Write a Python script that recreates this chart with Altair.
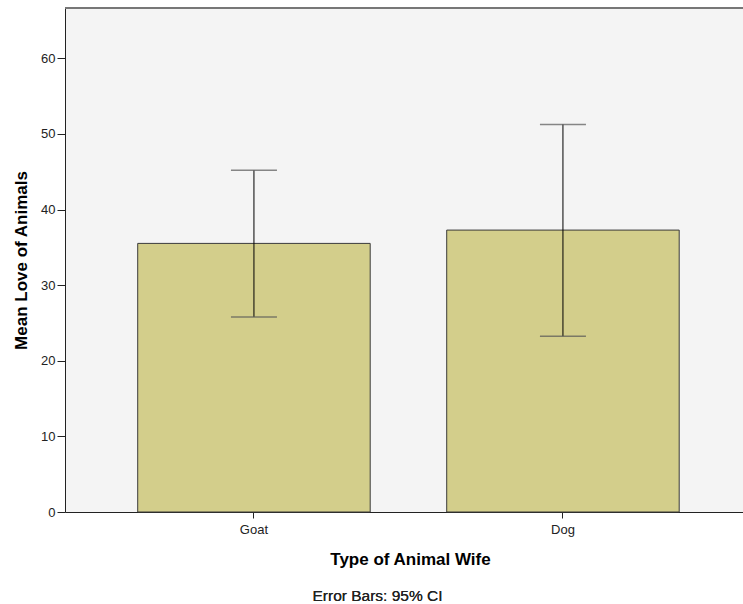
import altair as alt
import pandas as pd

# ---- data ----
animals = ["Goat", "Dog"]
means = [35.52, 37.28]
ci_lower = [25.80, 23.25]
ci_upper = [45.18, 51.26]
y_ticks = [0, 10, 20, 30, 40, 50, 60]
y_max = 66.65
x_title = "Type of Animal Wife"
y_title = "Mean Love of Animals"
footnote = "Error Bars: 95% CI"

df = pd.DataFrame({"animal": animals, "mean": means, "lo": ci_lower, "hi": ci_upper})

W, H = 678, 504
FONT = "Liberation Sans"

xscale = alt.Scale(domain=animals, paddingInner=0.2476, paddingOuter=0.2209,
                   align=0.5326, round=False)
yscale = alt.Scale(domain=[0, y_max], nice=False, zero=True)

x_axis = alt.Axis(title=x_title, labelAngle=0, tickSize=6, tickColor="#222",
                  domainColor="#222", domainWidth=1, labelFontSize=13,
                  labelColor="#222", labelPadding=5, labelFont=FONT,
                  titleFont=FONT, titleFontSize=17, titleFontWeight="bold",
                  titleColor="#000", titleX=345, titleY=52,
                  titleBaseline="alphabetic", titleAlign="center")
y_axis = alt.Axis(title=y_title, values=y_ticks, grid=False, tickSize=8,
                  tickColor="#222", domainColor="#222", domainWidth=1,
                  labelFontSize=13, labelColor="#222", labelPadding=2,
                  labelFont=FONT, titleFont=FONT, titleFontSize=17,
                  titleFontWeight="bold", titleColor="#000", titleX=-39,
                  titleY=252, titleAngle=270, titleBaseline="alphabetic",
                  titleAlign="center")

x_enc = alt.X("animal:N", scale=xscale, sort=animals, axis=x_axis)

base = alt.Chart(df)

bars = base.mark_bar(fill="#D3CE8B", stroke="#3a3a3a", strokeWidth=1).encode(
    x=x_enc,
    y=alt.Y("mean:Q", scale=yscale, axis=y_axis),
)

err = base.mark_rule(color="#000", strokeWidth=1).encode(
    x=x_enc,
    y=alt.Y("lo:Q", scale=yscale, axis=y_axis),
    y2="hi:Q",
)

cap_hi = base.mark_tick(size=46, thickness=1.5, color="#555").encode(
    x=x_enc, y=alt.Y("hi:Q", scale=yscale, axis=y_axis))
cap_lo = base.mark_tick(size=46, thickness=1.5, color="#555").encode(
    x=x_enc, y=alt.Y("lo:Q", scale=yscale, axis=y_axis))

top_border = base.mark_rule(color="#777", strokeWidth=2).encode(
    x=alt.value(0), x2=alt.value(W), y=alt.value(0))

note = base.mark_text(font=FONT, fontSize=15.5, color="#222", align="center",
                      baseline="alphabetic").encode(
    x=alt.value(312.5), y=alt.value(593), text=alt.value(footnote))

chart = alt.layer(bars, err, cap_hi, cap_lo, top_border, note).properties(
    width=W, height=H,
    padding={"left": 65, "top": 8, "right": 0, "bottom": 92},
    autosize=alt.AutoSizeParams(type="none"),
    background="white",
).configure_view(fill="#F4F4F4", stroke="transparent")

chart.save("out.html", embed_options={"renderer": "svg", "actions": False})
